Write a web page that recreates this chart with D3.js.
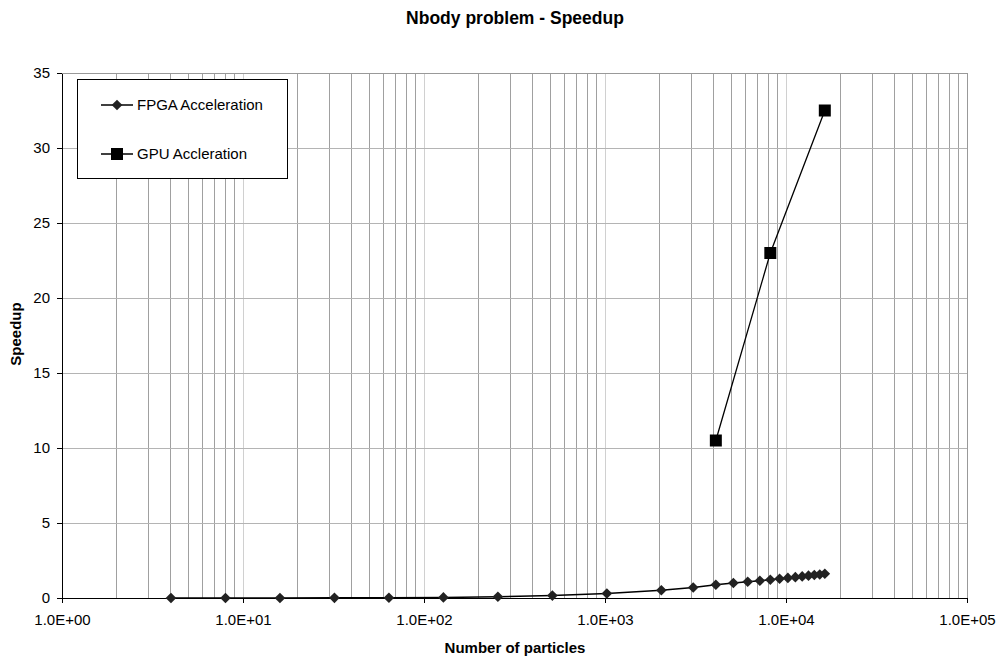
<!DOCTYPE html>
<html>
<head>
<meta charset="UTF-8">
<title>Nbody problem - Speedup</title>
<style>
body { margin: 0; background: #fff; }
svg { font-family: "Liberation Sans", Arial, sans-serif; }
</style>
<script src="https://cdnjs.cloudflare.com/ajax/libs/d3/7.8.5/d3.min.js"></script>
</head>
<body>
<div id="canvas"></div>
<script>
// data
var fpgaN = [4, 8, 16, 32, 64, 128, 256, 512, 1024, 2048, 3072, 4096, 5120, 6144, 7168,
             8192, 9216, 10240, 11264, 12288, 13312, 14336, 15360, 16384];
var fpgaSpeedup = [0.0, 0.0, 0.0, 0.01, 0.02, 0.04, 0.08, 0.16, 0.3, 0.52, 0.7, 0.88, 1.0, 1.08, 1.15,
                   1.22, 1.28, 1.34, 1.39, 1.44, 1.49, 1.53, 1.57, 1.62];
var gpuN = [4096, 8192, 16384];
var gpuSpeedup = [10.5, 23, 32.5];
var xTickValues = [1, 10, 100, 1000, 10000, 100000];
var yTickValues = [0, 5, 10, 15, 20, 25, 30, 35];

var width = 1001, height = 658;
var margin = {top: 73, right: 34, bottom: 60, left: 62};
var innerW = width - margin.left - margin.right;
var innerH = height - margin.top - margin.bottom;

var svg = d3.select("#canvas").append("svg")
    .attr("width", width)
    .attr("height", height);

var g = svg.append("g")
    .attr("transform", "translate(" + margin.left + "," + margin.top + ")");

var x = d3.scaleLog().domain([1, 100000]).range([0, innerW]);
var y = d3.scaleLinear().domain([0, 35]).range([innerH, 0]);

// minor vertical gridlines (2..9 in each decade)
var minor = [];
for (var d = 1; d < 100000; d *= 10) {
  for (var k = 2; k <= 9; k++) minor.push(d * k);
}
g.append("g").selectAll("line").data(minor).enter().append("line")
    .attr("x1", function(v) { return x(v); })
    .attr("x2", function(v) { return x(v); })
    .attr("y1", 0).attr("y2", innerH)
    .attr("stroke", "#a0a0a0").attr("stroke-width", 1)
    .attr("shape-rendering", "crispEdges");

// decade gridlines (lighter)
g.append("g").selectAll("line").data(xTickValues.slice(1)).enter().append("line")
    .attr("x1", function(v) { return x(v); })
    .attr("x2", function(v) { return x(v); })
    .attr("y1", 0).attr("y2", innerH)
    .attr("stroke", "#d0d0d0").attr("stroke-width", 1)
    .attr("shape-rendering", "crispEdges");

// horizontal gridlines
g.append("g").selectAll("line").data(yTickValues.slice(1)).enter().append("line")
    .attr("x1", 0).attr("x2", innerW)
    .attr("y1", function(v) { return y(v); })
    .attr("y2", function(v) { return y(v); })
    .attr("stroke", "#b4b4b4").attr("stroke-width", 1)
    .attr("shape-rendering", "crispEdges");

// plot border top/right
g.append("path")
    .attr("d", "M0,0H" + innerW + "V" + innerH)
    .attr("fill", "none").attr("stroke", "#999").attr("shape-rendering", "crispEdges");

// axes
var xAxis = d3.axisBottom(x).tickValues(xTickValues).tickSize(5).tickSizeOuter(0)
    .tickFormat(function(v) { return v.toExponential(1).toUpperCase().replace("E+", "E+0"); });
var gx = g.append("g").attr("transform", "translate(0," + innerH + ")").call(xAxis);
gx.selectAll("text").attr("font-size", 15).attr("fill", "#000").attr("y", 16).attr("dy", "0.71em");
gx.selectAll("line, path").attr("stroke", "#000").attr("shape-rendering", "crispEdges");
gx.select(".domain").attr("stroke-width", 1.5);

var yAxis = d3.axisLeft(y).tickValues(yTickValues).tickSize(5).tickSizeOuter(0);
var gy = g.append("g").call(yAxis);
gy.selectAll("text").attr("font-size", 15).attr("fill", "#000").attr("x", -12);
gy.selectAll("line, path").attr("stroke", "#000").attr("shape-rendering", "crispEdges");
gy.select(".domain").attr("stroke-width", 1.5);

// lines
var line = d3.line()
    .x(function(d) { return x(d[0]); })
    .y(function(d) { return y(d[1]); });

var fpga = d3.zip(fpgaN, fpgaSpeedup);
var gpu = d3.zip(gpuN, gpuSpeedup);

g.append("path").datum(fpga).attr("d", line)
    .attr("fill", "none").attr("stroke", "#000").attr("stroke-width", 1.5);
g.append("path").datum(gpu).attr("d", line)
    .attr("fill", "none").attr("stroke", "#000").attr("stroke-width", 1.3);

var diamond = d3.symbol().type(d3.symbolDiamond2).size(72);
var square = d3.symbol().type(d3.symbolSquare).size(144);

g.append("g").selectAll("path").data(fpga).enter().append("path")
    .attr("d", diamond)
    .attr("transform", function(d) { return "translate(" + x(d[0]) + "," + y(d[1]) + ")"; })
    .attr("fill", "#222");

g.append("g").selectAll("path").data(gpu).enter().append("path")
    .attr("d", square)
    .attr("transform", function(d) { return "translate(" + x(d[0]) + "," + y(d[1]) + ")"; })
    .attr("fill", "#000");

// legend
var legend = svg.append("g");
legend.append("rect")
    .attr("x", 77.5).attr("y", 79.5).attr("width", 210).attr("height", 99)
    .attr("fill", "#fff").attr("stroke", "#000").attr("stroke-width", 1);

var legendItems = [
  {label: "FPGA Acceleration", sym: diamond, y: 105, fill: "#222"},
  {label: "GPU Accleration", sym: square, y: 154, fill: "#000"}
];
legendItems.forEach(function(it) {
  legend.append("line").attr("x1", 101).attr("x2", 133).attr("y1", it.y).attr("y2", it.y)
      .attr("stroke", "#000").attr("stroke-width", 1.5);
  legend.append("path").attr("d", it.sym)
      .attr("transform", "translate(117," + it.y + ")").attr("fill", it.fill);
  legend.append("text").attr("x", 137).attr("y", it.y).attr("dy", "0.35em")
      .attr("font-size", 15).text(it.label);
});

// titles
svg.append("text").attr("x", 515).attr("y", 24).attr("text-anchor", "middle")
    .attr("font-size", 17.5).attr("font-weight", "bold").text("Nbody problem - Speedup");
svg.append("text").attr("x", 515).attr("y", 653).attr("text-anchor", "middle")
    .attr("font-size", 15).attr("font-weight", "bold").text("Number of particles");
svg.append("text").attr("transform", "translate(21,334) rotate(-90)").attr("text-anchor", "middle")
    .attr("font-size", 15).attr("font-weight", "bold").text("Speedup");
</script>
</body>
</html>
